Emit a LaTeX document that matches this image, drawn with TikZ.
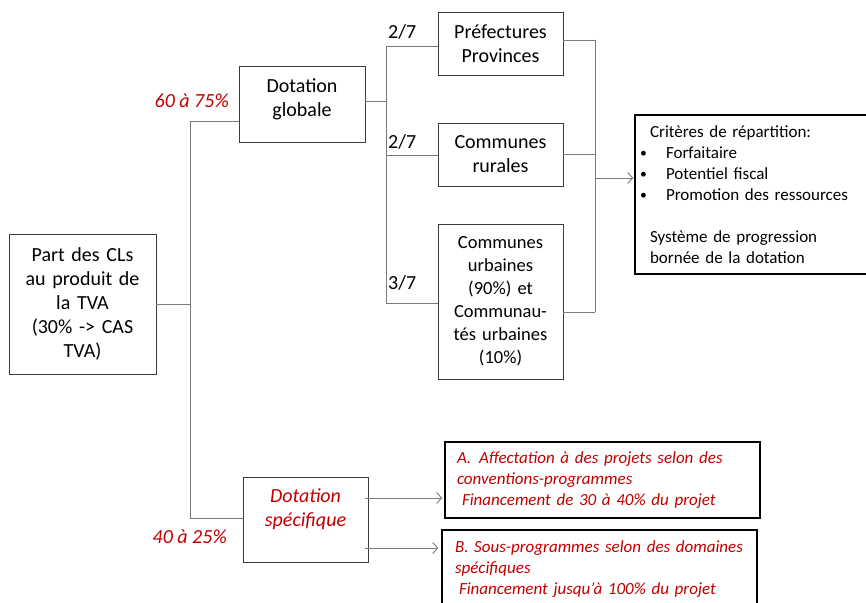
\documentclass[tikz,border=0pt]{standalone}
\usepackage{fontspec}
\setmainfont{Carlito}
\usetikzlibrary{arrows.meta}
\definecolor{redtxt}{HTML}{C00000}
\definecolor{linegray}{HTML}{7A7A7A}
\definecolor{boxgray}{HTML}{3C3C3C}
\newcommand{\bulletitem}[1]{\hspace*{-10pt}\makebox[26pt][l]{\raisebox{1pt}{\scalebox{0.8}{•}}}#1}
\begin{document}
\begin{tikzpicture}[x=1pt,y=-1pt,
  box/.style={draw=boxgray,line width=0.9pt,inner xsep=0pt,inner ysep=0pt,
    align=center,font=\fontsize{20}{24}\selectfont},
  notebox/.style={draw=black,line width=1.5pt,inner xsep=12pt,inner ysep=0pt,
    align=left,font=\fontsize{17}{21}\selectfont},
  conn/.style={draw=linegray,line width=0.9pt},
  arr/.style={conn,-{Straight Barb[length=5pt,width=11pt,line width=0.9pt]}},
  share/.style={inner sep=0pt,font=\fontsize{20}{24}\selectfont},
  pct/.style={inner sep=0pt,text=redtxt,font=\fontsize{20}{24}\selectfont\itshape}]
\useasboundingbox (0,0) rectangle (866,602);
\clip (0,0) rectangle (866,602);

% boxes
\node[box,text width=147pt,minimum height=140pt] (part) at (82.5,304)
  {Part des CLs\\au produit de\\la TVA\\(30\% -> CAS\\TVA)};
\node[box,text width=126pt,minimum height=76pt,text depth=37pt] (dg) at (302,104)
  {Dotation\\globale};
\node[box,text width=125pt,minimum height=63pt] (pref) at (500.5,43.5)
  {Préfectures\\Provinces};
\node[box,text width=125pt,minimum height=63pt] (rur) at (500.5,154.5)
  {Communes\\rurales};
\node[box,text width=125pt,minimum height=155pt,font=\fontsize{18.5}{23}\selectfont] (urb) at (500.5,301.5)
  {Communes\\urbaines\\(90\%) et\\Communau-\\tés urbaines\\(10\%)};
\node[notebox,inner xsep=15pt,text width=205pt,minimum height=159pt] (crit) at (752.5,194.5)
  {Critères de répartition:\\
   \bulletitem{Forfaitaire}\\
   \bulletitem{Potentiel fiscal}\\
   \bulletitem{Promotion des ressources}\\[21pt]
   Système de progression\\bornée de la dotation};
\node[box,text width=125pt,minimum height=85pt,text depth=48pt,text=redtxt,
  font=\fontsize{20}{24}\selectfont\itshape] (spec) at (305.5,519.5)
  {Dotation\\spécifique};
\node[notebox,text width=291pt,minimum height=76pt,text=redtxt,
  font=\fontsize{17}{21}\selectfont\itshape] (boxA) at (602.5,480)
  {\makebox[22pt][l]{A.}Affectation à des projets selon des\\
   conventions-programmes\\
   \hspace*{5pt}Financement de 30 à 40\% du projet};
\node[notebox,inner xsep=13pt,text width=289pt,minimum height=78pt,text=redtxt,
  font=\fontsize{17}{21}\selectfont\itshape] (boxB) at (599.5,569)
  {B. Sous-programmes selon des domaines\\
   spécifiques\\
   \hspace*{4pt}Financement jusqu’à 100\% du projet};

% labels on the branches
\node[pct,anchor=east] (p1) at (229,101) {60 à 75\%};
\node[pct,anchor=east] (p2) at (227,537) {40 à 25\%};
\node[share,anchor=west] (s1) at (388,32) {2/7};
\node[share,anchor=west] (s2) at (388,142) {2/7};
\node[share,anchor=west] (s3) at (388,283) {3/7};

% junction points
\coordinate (t1) at (190,121);
\coordinate (t2) at (190,518);
\coordinate (b0) at (386,101);
\coordinate (b1) at (386,46);
\coordinate (b2) at (386,155);
\coordinate (b3) at (386,303);
\coordinate (c1) at (595,40);
\coordinate (c2) at (595,154);
\coordinate (c3) at (595,312);
\coordinate (c4) at (595,178);
\coordinate (d1) at (365,498);
\coordinate (d2) at (365,548);

% main trunk
\draw[conn] (part.east) -- (part.east -| t1);
\draw[conn] (t1) -- (t2);
\draw[conn] (t1) -- (t1 -| dg.west);
\draw[conn] (t2) -- (t2 -| spec.west);

% global allocation split
\draw[conn] (b0 -| dg.east) -- (b0);
\draw[conn] (b1) -- (b3);
\draw[conn] (b1) -- (b1 -| pref.west);
\draw[conn] (b2) -- (b2 -| rur.west);
\draw[conn] (b3) -- (b3 -| urb.west);

% collection towards the criteria
\draw[conn] (c1 -| pref.east) -- (c1);
\draw[conn] (c2 -| rur.east) -- (c2);
\draw[conn] (c3 -| urb.east) -- (c3);
\draw[conn] (c1) -- (c3);
\draw[arr,shorten >=1pt] (c4) -- (c4 -| crit.west);

% specific allocation
\draw[arr,shorten >=2pt] (d1) -- (d1 -| boxA.west);
\draw[arr,shorten >=3pt] (d2) -- (d2 -| boxB.west);
\end{tikzpicture}
\end{document}
